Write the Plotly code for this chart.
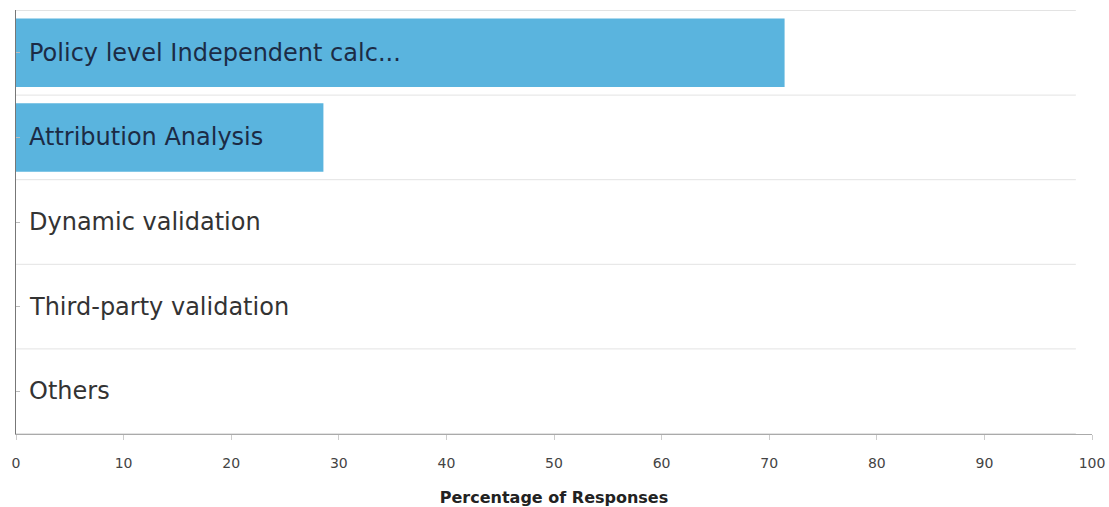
import plotly.graph_objects as go

# Survey responses (percentage of respondents per validation approach)
categories = [
    "Policy level Independent calc...",
    "Attribution Analysis",
    "Dynamic validation",
    "Third-party validation",
    "Others",
]
percentages = [71.43, 28.57, 0, 0, 0]
x_ticks = [0, 10, 20, 30, 40, 50, 60, 70, 80, 90, 100]

BAR_COLOR = "#5AB4DE"
FONT = "DejaVu Sans, Verdana, sans-serif"

fig = go.Figure(
    go.Bar(
        x=percentages,
        y=categories,
        orientation="h",
        marker=dict(color=BAR_COLOR, line=dict(width=0)),
        hoverinfo="x+y",
    )
)

# Category names drawn inside the plot area, left-aligned over each bar
for cat, val in zip(categories, percentages):
    fig.add_annotation(
        x=0, y=cat, xref="x", yref="y",
        text=cat, showarrow=False,
        xanchor="left", yanchor="middle", xshift=11,
        font=dict(family=FONT, size=24,
                  color="#1c2b45" if val > 0 else "#333333"),
    )

# Light separators between category bands
for i in range(len(categories) + 1):
    fig.add_shape(
        type="line", xref="x domain", yref="y",
        x0=0, x1=0.985, y0=i - 0.5, y1=i - 0.5,
        line=dict(color="#e3e3e3", width=1),
        layer="below",
    )

fig.update_layout(
    width=1109, height=507,
    margin=dict(l=16, r=17, t=10, b=73),
    paper_bgcolor="white", plot_bgcolor="white",
    bargap=0.19,
    showlegend=False,
    font=dict(family=FONT, color="#333333"),
    xaxis=dict(
        range=[0, 100],
        tickvals=x_ticks,
        ticks="outside", ticklen=5, tickcolor="#cccccc",
        tickfont=dict(size=14, color="#444444"),
        ticklabelstandoff=11,
        showgrid=False, zeroline=False,
        showline=True, linecolor="#aaaaaa", linewidth=1,
        title=dict(text="<b>Percentage of Responses</b>",
                   font=dict(size=16, color="#222222"), standoff=24),
        automargin=False,
        fixedrange=True,
    ),
    yaxis=dict(
        autorange="reversed",
        showticklabels=False,
        ticks="inside", ticklen=4, tickcolor="#bbbbbb",
        showgrid=False, zeroline=False,
        showline=True, linecolor="#777777", linewidth=1,
        automargin=False,
        fixedrange=True,
    ),
)

fig.write_html("out.html")
